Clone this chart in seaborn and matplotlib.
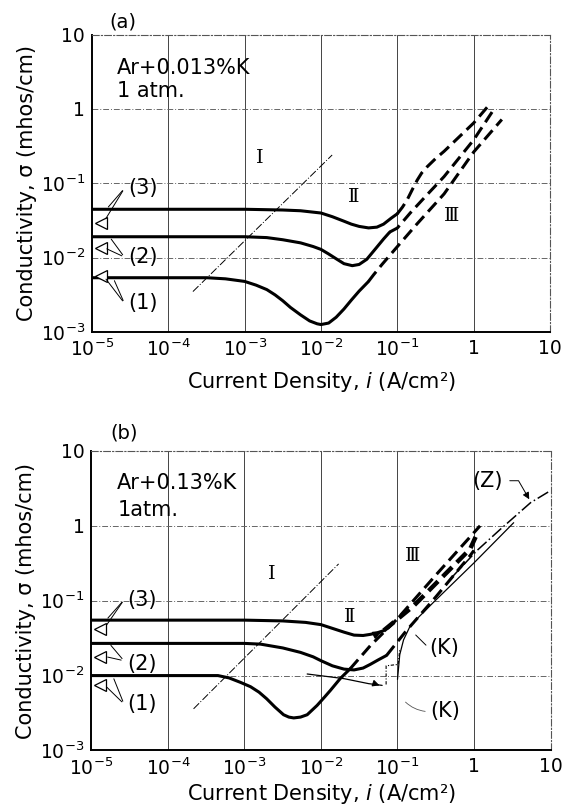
import numpy as np
import pandas as pd
import matplotlib
matplotlib.use("Agg")
import matplotlib.pyplot as plt
import seaborn as sns

# ---- data (i in A/cm2, sigma in mhos/cm) ----
# panel (a) Ar + 0.013 %K
a3_i = [1e-5, 1e-3, 3.16e-3, 5.4e-3, 1e-2, 1.41e-2, 2.0e-2, 2.5e-2, 3.16e-2, 4.2e-2,
        5.4e-2, 6.6e-2, 8.3e-2, 0.1]
a3_s = [0.0447, 0.0447, 0.0437, 0.0427, 0.0398, 0.0355, 0.0309, 0.0282, 0.0263, 0.0251,
        0.0257, 0.0282, 0.0339, 0.0389]
a3d_i = [0.1, 0.117, 0.135, 0.158, 0.182, 0.209, 0.245, 0.316, 0.41, 1.0, 1.5]
a3d_s = [0.0389, 0.0479, 0.0603, 0.0832, 0.110, 0.138, 0.166, 0.214, 0.269, 0.646, 1.05]

a2_i = [1e-5, 1e-3, 1.95e-3, 3.16e-3, 5.4e-3, 7.9e-3, 1e-2, 1.26e-2, 1.62e-2, 2.0e-2,
        2.57e-2, 3.16e-2, 3.98e-2, 5.0e-2, 6.6e-2, 7.9e-2]
a2_s = [0.0191, 0.0191, 0.0186, 0.0174, 0.0158, 0.0141, 0.0129, 0.0112, 0.0095, 0.0083,
        0.0078, 0.0081, 0.0095, 0.0126, 0.0178, 0.0219]
a2d_i = [0.079, 0.1, 0.148, 0.245, 0.41, 1.0, 1.82]
a2d_s = [0.022, 0.025, 0.040, 0.070, 0.123, 0.383, 0.97]

a1_i = [1e-5, 3.2e-4, 5.6e-4, 1e-3, 1.41e-3, 1.95e-3, 2.5e-3, 3.16e-3, 3.98e-3, 5.4e-3,
        7.1e-3, 8.9e-3, 1e-2, 1.26e-2, 1.58e-2, 2.0e-2, 2.5e-2, 3.16e-2, 4.2e-2]
a1_s = [0.00537, 0.00537, 0.00519, 0.00479, 0.00427, 0.00372, 0.00316, 0.00263, 0.00214,
        0.00170, 0.00141, 0.00129, 0.00126, 0.00132, 0.00158, 0.00204, 0.00269, 0.00355,
        0.00479]
a1d_i = [0.042, 0.049, 0.063, 0.093, 0.18, 0.41, 1.0, 2.34]
a1d_s = [0.0048, 0.0059, 0.0081, 0.0129, 0.0282, 0.072, 0.263, 0.72]

a_line1_i = [2.1e-4, 1.4e-2]
a_line1_s = [3.5e-3, 0.24]
a_tri_s = [0.029, 0.0134, 0.0056]

# panel (b) Ar + 0.13 %K
b3_i = [1e-5, 1e-3, 3.16e-3, 6.3e-3, 1e-2, 1.41e-2, 2.0e-2, 2.7e-2, 3.55e-2, 4.4e-2,
        5.4e-2, 6.6e-2]
b3_s = [0.055, 0.055, 0.0537, 0.0513, 0.0479, 0.0427, 0.038, 0.0347, 0.0343, 0.0355,
        0.0372, 0.0398]
b3d_i = [0.066, 0.162, 0.89, 1.05]
b3d_s = [0.040, 0.085, 0.49, 0.71]

b2_i = [1e-5, 1e-3, 1.62e-3, 3.16e-3, 5.4e-3, 7.9e-3, 1e-2, 1.41e-2, 2.0e-2, 2.7e-2,
        3.55e-2, 4.4e-2, 5.6e-2, 7.2e-2]
b2_s = [0.0269, 0.0269, 0.0263, 0.0234, 0.0204, 0.0178, 0.0158, 0.0135, 0.0122, 0.0119,
        0.0126, 0.0141, 0.0162, 0.0186]
b2d_i = [0.072, 0.126, 0.316, 0.89, 1.0]
b2d_s = [0.0186, 0.038, 0.112, 0.40, 0.47]

b1_i = [1e-5, 4.5e-4, 6.3e-4, 8.9e-4, 1.2e-3, 1.55e-3, 1.95e-3, 2.5e-3, 3.24e-3, 3.8e-3,
        4.4e-3, 5.4e-3, 6.6e-3, 8.9e-3, 1.12e-2, 1.32e-2, 1.78e-2, 2.4e-2]
b1_s = [0.0100, 0.0100, 0.0093, 0.0081, 0.0071, 0.0060, 0.0049, 0.0038, 0.0030, 0.00279,
        0.00272, 0.00279, 0.0030, 0.0040, 0.0052, 0.0063, 0.0091, 0.0123]
b1d_i = [0.024, 0.044, 0.1, 0.316, 1.2]
b1d_s = [0.0123, 0.025, 0.0575, 0.219, 1.0]

bK_i = [0.1, 0.107, 0.12, 0.148, 0.295, 1.0, 3.3]
bK_s = [0.0089, 0.019, 0.030, 0.047, 0.095, 0.32, 1.10]
bZ_i = [0.49, 1.1, 2.24, 5.5, 10]
bZ_s = [0.195, 0.47, 0.91, 2.04, 2.95]
bK2_i = [6.6e-3, 2.0e-2, 4.2e-2, 6.3e-2]
bK2_s = [0.0105, 0.0091, 0.0078, 0.0074]
bK2b_i = [0.071, 0.071, 0.102, 0.107]
bK2b_s = [0.0076, 0.0135, 0.0141, 0.0224]

b_line1_i = [2.16e-4, 1.7e-2]
b_line1_s = [3.6e-3, 0.31]
b_tri_s = [0.042, 0.0177, 0.0074]

xticks = [1e-5, 1e-4, 1e-3, 1e-2, 1e-1, 1, 10]
xlabels = ['$10^{-5}$', '$10^{-4}$', '$10^{-3}$', '$10^{-2}$', '$10^{-1}$', '1', '10']
yticks = [1e-3, 1e-2, 1e-1, 1, 10]
ylabels = ['$10^{-3}$', '$10^{-2}$', '$10^{-1}$', '1', '10']

sns.set_style("white")
plt.rcParams['font.family'] = ['DejaVu Sans']
plt.rcParams['mathtext.fontset'] = 'dejavusans'
for k in ['text.color', 'axes.labelcolor', 'xtick.color', 'ytick.color']:
    plt.rcParams[k] = 'black'

FS = 15

fig = plt.figure(figsize=(5.63, 8.10), dpi=100)
ax_a = fig.add_axes([0.1634, 0.5901, 0.8135, 0.3673])
ax_b = fig.add_axes([0.1625, 0.0735, 0.8153, 0.3698])

ROMAN = dict(family=['DejaVu Serif', 'Noto Sans CJK JP'], fontsize=14)


def curve(ax, x, y, ls='-', lw=2.2, color='black'):
    sns.lineplot(x=x, y=y, ax=ax, sort=False, estimator=None, color=color,
                 lw=lw, linestyle=ls)


def setup(ax, xpad):
    ax.set_xscale('log')
    ax.set_yscale('log')
    ax.set_xlim(1e-5, 10)
    ax.set_ylim(1e-3, 10)
    ax.set_xticks(xticks)
    ax.set_xticklabels(xlabels, fontsize=13.5)
    ax.set_yticks(yticks)
    ax.set_yticklabels(ylabels, fontsize=13.5)
    ax.minorticks_off()
    ax.tick_params(length=0, pad=5)
    for xv in xticks[1:-1]:
        ax.axvline(xv, color='#444444', lw=0.7, zorder=0)
    for yv in yticks[1:-1]:
        ax.axhline(yv, color='#666666', lw=0.7, ls=(0, (6, 2, 1, 2)), zorder=0)
    for s in ['left', 'bottom']:
        ax.spines[s].set_color('black')
        ax.spines[s].set_linewidth(1.4)
    for s in ['top', 'right']:
        ax.spines[s].set_color('#555555')
        ax.spines[s].set_linewidth(0.8)
        ax.spines[s].set_linestyle((0, (6, 2, 1, 2)))
    ax.set_xlabel('Current Density, $i$ (A/cm²)', fontsize=FS, labelpad=xpad)
    ax.set_ylabel('Conductivity, σ (mhos/cm)', fontsize=FS, labelpad=3)


def leader(ax, text, xt, yt, xs, ys, targets):
    ax.text(xt, yt, text, fontsize=FS, va='center', ha='left')
    for (tx, ty) in targets:
        ax.annotate('', xy=(tx, ty), xytext=(xs, ys),
                    arrowprops=dict(arrowstyle='-', lw=0.7, color='black'))


# ---------- panel (a) ----------
setup(ax_a, 7)
curve(ax_a, a3_i, a3_s)
curve(ax_a, a3d_i, a3d_s, ls=(0, (4, 2)))
curve(ax_a, a2_i, a2_s)
curve(ax_a, a2d_i, a2d_s, ls=(0, (4, 2)))
curve(ax_a, a1_i, a1_s)
curve(ax_a, a1d_i, a1d_s, ls=(0, (4, 2)))
curve(ax_a, a_line1_i, a_line1_s, ls=(0, (8, 2, 1, 2)), lw=0.7)
ax_a.plot([1.3e-5] * 3, a_tri_s, ls='none', marker='<', ms=9,
          mfc='white', mec='black', mew=0.9, clip_on=False)
leader(ax_a, '(3)', 2.95e-5, 0.087, 2.65e-5, 0.085, [(1.45e-5, 0.031), (1.55e-5, 0.045)])
leader(ax_a, '(2)', 2.95e-5, 0.0102, 2.65e-5, 0.0102, [(1.45e-5, 0.0136), (1.7e-5, 0.019)])
leader(ax_a, '(1)', 2.95e-5, 0.00245, 2.65e-5, 0.00245, [(1.45e-5, 0.0055), (1.9e-5, 0.0053)])
ax_a.text(1.6e-3, 0.22, 'Ⅰ', ha='center', va='center', **ROMAN)
ax_a.text(0.027, 0.066, 'Ⅱ', ha='center', va='center', **ROMAN)
ax_a.text(0.52, 0.036, 'Ⅲ', ha='center', va='center', **ROMAN)
ax_a.text(0.055, 0.887, 'Ar+0.013%K', transform=ax_a.transAxes, fontsize=FS, va='center')
ax_a.text(0.055, 0.81, '1 atm.', transform=ax_a.transAxes, fontsize=FS, va='center')
ax_a.text(0.068, 1.043, '(a)', transform=ax_a.transAxes, fontsize=FS - 1,
          va='center', ha='center')

# ---------- panel (b) ----------
setup(ax_b, 2)
curve(ax_b, b3_i, b3_s)
curve(ax_b, b3d_i, b3d_s, ls=(0, (3, 1.5)), lw=3.2)
curve(ax_b, b2_i, b2_s)
curve(ax_b, b2d_i, b2d_s, ls=(0, (4, 2)))
curve(ax_b, b1_i, b1_s)
curve(ax_b, b1d_i, b1d_s, ls=(0, (4, 2)))
curve(ax_b, bK_i, bK_s, lw=0.9)
curve(ax_b, bZ_i, bZ_s, ls=(0, (8, 2, 1, 2)), lw=1.1)
curve(ax_b, bK2_i, bK2_s, lw=0.9)
curve(ax_b, bK2b_i, bK2b_s, ls=(0, (3, 1.5, 1, 1.5)), lw=0.8)
curve(ax_b, b_line1_i, b_line1_s, ls=(0, (8, 2, 1, 2)), lw=0.7)
ax_b.plot([1.3e-5] * 3, b_tri_s, ls='none', marker='<', ms=9,
          mfc='white', mec='black', mew=0.9, clip_on=False)
leader(ax_b, '(3)', 2.95e-5, 0.102, 2.65e-5, 0.102, [(1.5e-5, 0.044), (1.55e-5, 0.055)])
leader(ax_b, '(2)', 2.95e-5, 0.0143, 2.65e-5, 0.0158, [(1.5e-5, 0.018), (1.7e-5, 0.027)])
leader(ax_b, '(1)', 2.95e-5, 0.0042, 2.65e-5, 0.0042, [(1.5e-5, 0.0074), (1.9e-5, 0.0098)])
ax_b.text(2.3e-3, 0.23, 'Ⅰ', ha='center', va='center', **ROMAN)
ax_b.text(0.024, 0.060, 'Ⅱ', ha='center', va='center', **ROMAN)
ax_b.text(0.16, 0.40, 'Ⅲ', ha='center', va='center', **ROMAN)
ax_b.text(1.48, 4.0, '(Z)', fontsize=FS, ha='center', va='center')
ax_b.annotate('', xy=(5.5, 2.1), xytext=(2.7, 4.0),
              arrowprops=dict(arrowstyle='-|>', lw=0.7, color='black',
                              connectionstyle='angle,angleA=0,angleB=-60'))
ax_b.text(0.41, 0.023, '(K)', fontsize=FS, ha='center', va='center')
ax_b.annotate('', xy=(0.163, 0.037), xytext=(0.25, 0.024),
              arrowprops=dict(arrowstyle='-', lw=0.7, color='black'))
ax_b.text(0.42, 0.0034, '(K)', fontsize=FS, ha='center', va='center')
ax_b.annotate('', xy=(0.12, 0.0047), xytext=(0.25, 0.0033),
              arrowprops=dict(arrowstyle='-', lw=0.6, color='#555555',
                              connectionstyle='arc3,rad=-0.2'))
ax_b.annotate('', xy=(0.063, 0.0072), xytext=(0.05, 0.0078),
              arrowprops=dict(arrowstyle='-|>', lw=0.8, color='black'))
ax_b.annotate('', xy=(0.066, 0.040), xytext=(0.055, 0.0365),
              arrowprops=dict(arrowstyle='-|>', lw=1.5, color='black'))
ax_b.text(0.056, 0.893, 'Ar+0.13%K', transform=ax_b.transAxes, fontsize=FS, va='center')
ax_b.text(0.056, 0.803, '1atm.', transform=ax_b.transAxes, fontsize=FS, va='center')
ax_b.text(0.072, 1.06, '(b)', transform=ax_b.transAxes, fontsize=FS - 1,
          va='center', ha='center')

fig.savefig('out.png', dpi=100)
